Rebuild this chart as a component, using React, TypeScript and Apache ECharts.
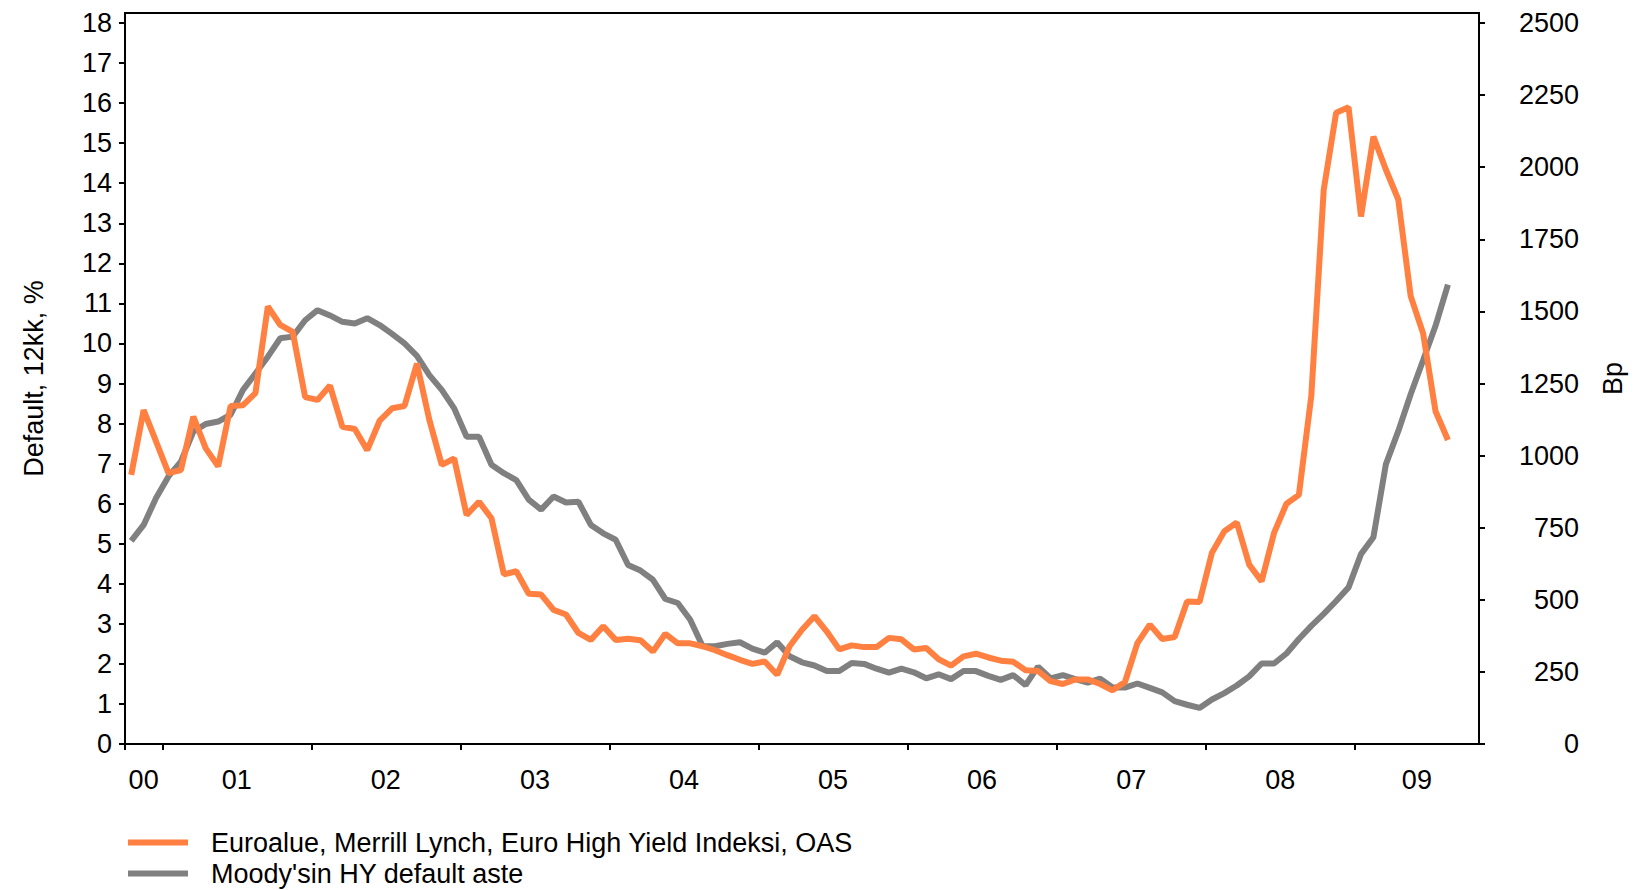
import React, { useEffect, useRef } from "react";
import * as echarts from "echarts";

// First observation: October 2000, monthly until August 2009
const START_YEAR = 2000;
const START_MONTH = 10;

// Euro area, Merrill Lynch Euro High Yield index, OAS (bp, right axis)
const spreadBp = [
  933, 1158, 1049, 939, 950, 1135, 1025, 963, 1172, 1175,
  1217, 1517, 1453, 1429, 1203, 1193, 1243, 1100, 1092, 1019,
  1121, 1164, 1172, 1319, 1124, 968, 990, 794, 840, 783,
  588, 599, 521, 518, 465, 449, 385, 361, 408, 361,
  365, 360, 321, 382, 349, 349, 339, 325, 308, 292,
  278, 286, 240, 339, 396, 443, 390, 328, 342, 336,
  336, 368, 363, 328, 333, 294, 272, 304, 313, 300,
  289, 285, 256, 253, 218, 208, 224, 224, 208, 186,
  215, 350, 414, 364, 371, 494, 492, 663, 738, 768,
  622, 564, 732, 833, 864, 1207, 1922, 2189, 2208, 1829,
  2106, 1992, 1888, 1553, 1424, 1154, 1054,
];

// Moody's HY default rate, 12m (%, left axis)
const defaultRate = [
  5.07, 5.47, 6.14, 6.68, 7.05, 7.8, 7.99, 8.05, 8.22, 8.84,
  9.25, 9.67, 10.13, 10.17, 10.58, 10.83, 10.7, 10.54, 10.5, 10.63,
  10.46, 10.24, 10.0, 9.69, 9.21, 8.84, 8.38, 7.67, 7.67, 6.97,
  6.76, 6.59, 6.1, 5.85, 6.18, 6.03, 6.05, 5.47, 5.26, 5.1,
  4.47, 4.33, 4.1, 3.62, 3.52, 3.1, 2.44, 2.44, 2.5, 2.54,
  2.38, 2.28, 2.54, 2.19, 2.04, 1.96, 1.82, 1.82, 2.02, 2.0,
  1.88, 1.78, 1.88, 1.79, 1.64, 1.74, 1.62, 1.82, 1.82, 1.7,
  1.6, 1.72, 1.47, 1.93, 1.64, 1.72, 1.62, 1.53, 1.63, 1.41,
  1.41, 1.51, 1.4, 1.29, 1.07, 0.98, 0.9, 1.11, 1.27, 1.46,
  1.69, 2.01, 2.01, 2.26, 2.62, 2.95, 3.25, 3.57, 3.91, 4.74,
  5.16, 6.98, 7.81, 8.73, 9.58, 10.44, 11.47,
];

const yearLabels = ["00", "01", "02", "03", "04", "05", "06", "07", "08", "09"];
const leftTicks = [0, 1, 2, 3, 4, 5, 6, 7, 8, 9, 10, 11, 12, 13, 14, 15, 16, 17, 18];
const rightTicks = [0, 250, 500, 750, 1000, 1250, 1500, 1750, 2000, 2250, 2500];

const seriesNames = [
  "Euroalue, Merrill Lynch, Euro High Yield Indeksi, OAS",
  "Moody'sin HY default aste",
];

// month labels "YYYY-MM"
const months: string[] = spreadBp.map((_, i) => {
  const m = START_MONTH - 1 + i;
  const y = START_YEAR + Math.floor(m / 12);
  return `${y}-${String((m % 12) + 1).padStart(2, "0")}`;
});

// months since Jan 2000, placed mid-month
const toX = (label: string) => {
  const [y, m] = label.split("-").map(Number);
  return (y - START_YEAR) * 12 + (m - 1) + 0.5;
};

const X_MIN = START_MONTH - 1; // 1 Oct 2000
const X_MAX = (2009 - START_YEAR) * 12 + 10; // 1 Nov 2009

const yearStarts = yearLabels.map((_, k) => k * 12).filter((v) => v > X_MIN);
const xTickValues = [X_MIN, ...yearStarts];
const xLabelValues = yearLabels.map((_, k) => {
  const a = Math.max(X_MIN, k * 12);
  const b = Math.min(X_MAX, (k + 1) * 12);
  return (a + b) / 2;
});

const LEFT_MAX = 18.25;
const RIGHT_MAX = (LEFT_MAX * 2500) / 18;

const FONT = "'Liberation Sans', Arial, Helvetica, sans-serif";

export default function App() {
  const ref = useRef<HTMLDivElement>(null);

  useEffect(() => {
    document.body.style.margin = "0";
    if (!ref.current) return;
    const chart = echarts.init(ref.current, undefined, { renderer: "svg" });

    const axisCommon = {
      axisLine: { show: true, lineStyle: { color: "#000", width: 2 } },
      splitLine: { show: false },
    };

    chart.setOption({
      animation: false,
      backgroundColor: "#ffffff",
      textStyle: { fontFamily: FONT, color: "#000" },
      grid: {
        left: 125,
        right: 155,
        top: 13,
        bottom: 146,
        show: true,
        borderColor: "#000",
        borderWidth: 2,
        backgroundColor: "transparent",
      },
      legend: {
        orient: "vertical",
        left: 128,
        top: 829,
        padding: 0,
        itemGap: 4,
        itemWidth: 60,
        itemHeight: 6,
        icon: "rect",
        data: seriesNames,
        textStyle: {
          fontFamily: FONT,
          fontSize: 27,
          lineHeight: 27,
          color: "#000",
          padding: [0, 0, 0, 18],
        },
      },
      xAxis: {
        type: "value",
        min: X_MIN,
        max: X_MAX,
        ...axisCommon,
        axisTick: {
          show: true,
          length: 6,
          inside: false,
          customValues: xTickValues,
          lineStyle: { color: "#000", width: 2 },
        },
        axisLabel: {
          customValues: xLabelValues,
          formatter: (v: number) => yearLabels[Math.floor(v / 12)] ?? "",
          fontFamily: FONT,
          fontSize: 27,
          color: "#000",
          margin: 22,
        },
      },
      yAxis: [
        {
          type: "value",
          position: "left",
          min: 0,
          max: LEFT_MAX,
          ...axisCommon,
          name: "Default, 12kk, %",
          nameLocation: "middle",
          nameRotate: 90,
          nameGap: 78,
          nameTextStyle: { fontFamily: FONT, fontSize: 27, color: "#000" },
          axisTick: {
            show: true,
            length: 6,
            customValues: leftTicks,
            lineStyle: { color: "#000", width: 2 },
          },
          axisLabel: {
            customValues: leftTicks,
            formatter: (v: number) => String(v),
            fontFamily: FONT,
            fontSize: 27,
            color: "#000",
            margin: 13,
          },
        },
        {
          type: "value",
          position: "right",
          min: 0,
          max: RIGHT_MAX,
          ...axisCommon,
          name: "Bp",
          nameLocation: "middle",
          nameRotate: 90,
          nameGap: 120,
          nameTextStyle: { fontFamily: FONT, fontSize: 27, color: "#000" },
          axisTick: {
            show: true,
            length: 6,
            customValues: rightTicks,
            lineStyle: { color: "#000", width: 2 },
          },
          axisLabel: {
            customValues: rightTicks,
            formatter: (v: number) => String(v),
            fontFamily: FONT,
            fontSize: 27,
            color: "#000",
            align: "right",
            margin: 100,
          },
        },
      ],
      series: [
        {
          name: seriesNames[0],
          type: "line",
          yAxisIndex: 1,
          data: months.map((m, i) => [toX(m), spreadBp[i]]),
          showSymbol: false,
          symbol: "none",
          color: "#ff8040",
          lineStyle: { color: "#ff8040", width: 6 },
          z: 3,
        },
        {
          name: seriesNames[1],
          type: "line",
          yAxisIndex: 0,
          data: months.map((m, i) => [toX(m), defaultRate[i]]),
          showSymbol: false,
          symbol: "none",
          color: "#808080",
          lineStyle: { color: "#808080", width: 6 },
          z: 2,
        },
      ],
    });

    return () => chart.dispose();
  }, []);

  return <div ref={ref} style={{ width: 1634, height: 890 }} />;
}
